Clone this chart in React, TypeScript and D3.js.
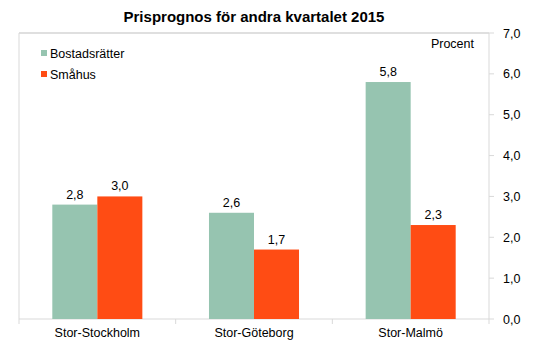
import React from "react";
import * as d3 from "d3";

const categories = ["Stor-Stockholm", "Stor-Göteborg", "Stor-Malmö"];
const seriesNames = ["Bostadsrätter", "Småhus"];
const bostadsratter = [2.8, 2.6, 5.8];
const smahus = [3.0, 1.7, 2.3];
const yTicks = [0, 1, 2, 3, 4, 5, 6, 7];
const colors = ["#96C4B0", "#FF4C14"];

const W = 555, H = 355;
const left = 19, right = 489, top = 33, bottom = 319;
const font = "Liberation Sans, Arial, sans-serif";

export default function App() {
  const x = d3.scaleBand<string>().domain(categories).range([left, right]).paddingInner(0).paddingOuter(0);
  const y = d3.scaleLinear().domain([0, 7]).range([bottom, top]);
  const inner = d3.scaleBand<string>().domain(seriesNames).range([0, x.bandwidth()]).paddingInner(0).paddingOuter(0.74);
  const series = [bostadsratter, smahus];
  const fmt = (v: number) => v.toFixed(1).replace(".", ",");
  const axisColor = "#d9d9d9";

  return (
    <svg width={W} height={H} style={{ position: "absolute", left: 0, top: 0 }}>
      <rect x={0} y={0} width={W} height={H} fill="#fff" />
      <text x={254} y={22} textAnchor="middle" fontFamily={font} fontWeight="bold" fontSize={15} fill="#000">
        Prisprognos för andra kvartalet 2015
      </text>
      {/* frame */}
      <line x1={left} x2={right} y1={top} y2={top} stroke="#bfbfbf" strokeWidth={1} />
      <line x1={left} x2={left} y1={top} y2={bottom} stroke={axisColor} strokeWidth={1} />
      <line x1={right} x2={right} y1={top} y2={bottom} stroke={axisColor} strokeWidth={1} />
      <line x1={left} x2={right} y1={bottom} y2={bottom} stroke={axisColor} strokeWidth={1} />
      {/* y ticks */}
      {yTicks.map((t) => (
        <g key={t}>
          <line x1={right} x2={right + 5} y1={y(t)} y2={y(t)} stroke={axisColor} />
          <text x={503} y={y(t) + 4.5} fontFamily={font} fontSize={12.5} fill="#000">
            {fmt(t)}
          </text>
        </g>
      ))}
      {/* x ticks */}
      {[...categories.map((c) => x(c) as number), right].map((v, i) => (
        <line key={i} x1={v} x2={v} y1={bottom} y2={bottom + 5} stroke={axisColor} />
      ))}
      {/* bars */}
      {categories.map((c, ci) =>
        seriesNames.map((s, si) => {
          const bx = (x(c) as number) + (inner(s) as number);
          const v = series[si][ci];
          return (
            <g key={c + s}>
              <rect x={bx} y={y(v)} width={inner.bandwidth()} height={bottom - y(v)} fill={colors[si]} />
              <text x={bx + inner.bandwidth() / 2} y={y(v) - 6} textAnchor="middle" fontFamily={font} fontSize={12.5} fill="#000">
                {fmt(v)}
              </text>
            </g>
          );
        })
      )}
      {/* category labels */}
      {categories.map((c) => (
        <text key={c} x={(x(c) as number) + x.bandwidth() / 2} y={337} textAnchor="middle" fontFamily={font} fontSize={12.5} fill="#000">
          {c}
        </text>
      ))}
      <text x={474} y={48} textAnchor="end" fontFamily={font} fontSize={12.5} fill="#000">Procent</text>
      {/* legend */}
      {seriesNames.map((s, i) => (
        <g key={s}>
          <rect x={41} y={50 + i * 21} width={6} height={6} fill={colors[i]} />
          <text x={50} y={58 + i * 21} fontFamily={font} fontSize={12.5} fill="#000">{s}</text>
        </g>
      ))}
    </svg>
  );
}
